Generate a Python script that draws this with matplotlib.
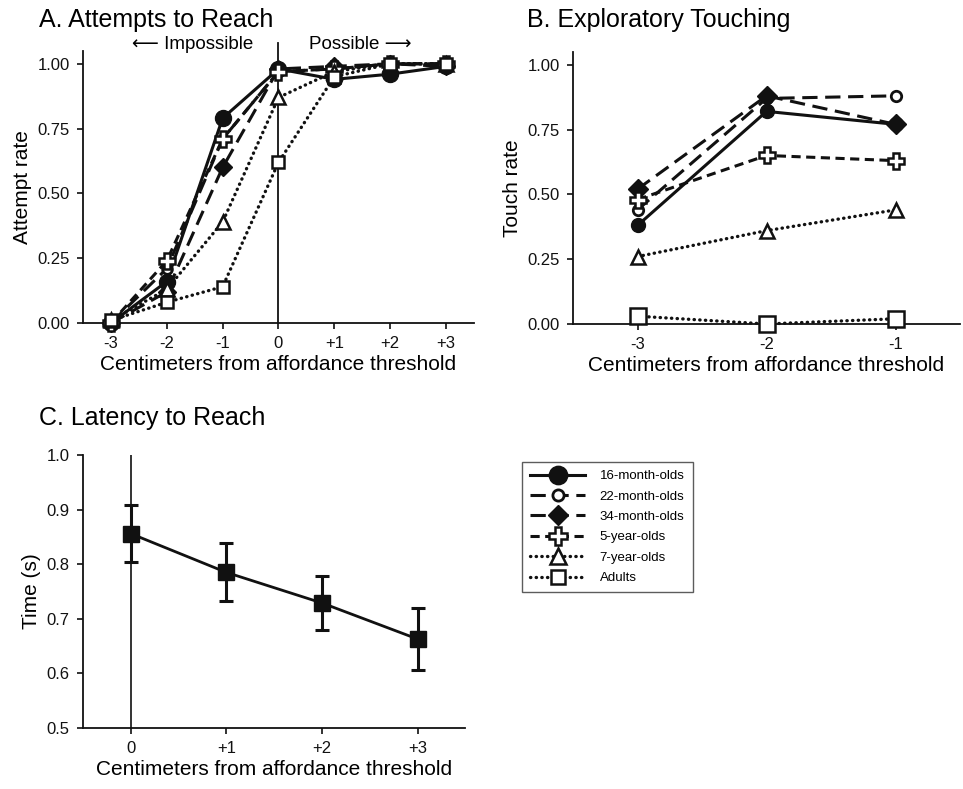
import numpy as np
import matplotlib.pyplot as plt
from matplotlib.lines import Line2D

plt.rcParams['font.family'] = ['Liberation Sans', 'DejaVu Sans']

# Panel A: attempts to reach
dist_a = [-3, -2, -1, 0, 1, 2, 3]
dist_a_labels = ['-3', '-2', '-1', '0', '+1', '+2', '+3']
attempt_16mo = [0.00, 0.16, 0.79, 0.98, 0.94, 0.96, 0.99]
attempt_22mo = [0.00, 0.21, 0.71, 0.97, 0.98, 1.00, 1.00]
attempt_34mo = [0.00, 0.12, 0.60, 0.98, 0.99, 1.00, 0.99]
attempt_5yr = [0.00, 0.24, 0.71, 0.97, 0.98, 1.00, 1.00]
attempt_7yr = [0.01, 0.13, 0.39, 0.87, 0.97, 1.00, 1.00]
attempt_adult = [0.01, 0.08, 0.14, 0.62, 0.95, 1.00, 1.00]

# Panel B: exploratory touching
dist_b = [-3, -2, -1]
dist_b_labels = ['-3', '-2', '-1']
touch_16mo = [0.38, 0.82, 0.77]
touch_22mo = [0.44, 0.87, 0.88]
touch_34mo = [0.52, 0.88, 0.77]
touch_5yr = [0.48, 0.65, 0.63]
touch_7yr = [0.26, 0.36, 0.44]
touch_adult = [0.03, 0.00, 0.02]

# Panel C: latency
dist_c = [0, 1, 2, 3]
dist_c_labels = ['0', '+1', '+2', '+3']
latency = [0.856, 0.785, 0.729, 0.663]
latency_err = [0.052, 0.053, 0.049, 0.056]

groups = ['16-month-olds', '22-month-olds', '34-month-olds',
          '5-year-olds', '7-year-olds', 'Adults']

k = '#111111'
styles = [
    dict(marker='o', ms=11.5, mfc=k, mec=k, ls='-', lw=2.2),
    dict(marker='o', ms=7, mfc='white', mec=k, mew=2, ls=(0, (5, 2.5)), lw=2.2),
    dict(marker='D', ms=9, mfc=k, mec=k, ls=(0, (5, 2.5)), lw=2.2),
    dict(marker='P', ms=11, mfc='white', mec=k, mew=1.8, ls=(0, (3, 1.8)), lw=2.2),
    dict(marker='^', ms=10, mfc='white', mec=k, mew=1.8, ls=(0, (0.1, 1.6)), lw=2.4, dash_capstyle='round'),
    dict(marker='s', ms=9, mfc='white', mec=k, mew=1.8, ls=(0, (0.1, 1.6)), lw=2.4, dash_capstyle='round'),
]

tick_fs = 12
label_fs = 15
title_fs = 18

fig = plt.figure(figsize=(9.63, 7.89), dpi=100)
ax_a = fig.add_axes([0.0862, 0.5906, 0.406, 0.345])
ax_b = fig.add_axes([0.595, 0.5894, 0.402, 0.345])
ax_c = fig.add_axes([0.0862, 0.0773, 0.397, 0.346])


def style_axes(ax):
    for s in ['top', 'right']:
        ax.spines[s].set_visible(False)
    for s in ['left', 'bottom']:
        ax.spines[s].set_linewidth(1.3)
        ax.spines[s].set_color(k)
    ax.tick_params(direction='out', length=4.5, width=1.2, pad=5, labelsize=tick_fs, colors=k)


# A
ax_a.plot([0, 0], [0, 1.08], color=k, lw=1.3, clip_on=False, zorder=1)
attempts = [attempt_16mo, attempt_22mo, attempt_34mo, attempt_5yr, attempt_7yr, attempt_adult]
for vals, st in zip(attempts, styles):
    ax_a.plot(dist_a, vals, color=k, clip_on=False, zorder=3, **st)
ax_a.set_xlim(-3.5, 3.5)
ax_a.set_ylim(0, 1.05)
ax_a.set_xticks(dist_a)
ax_a.set_xticklabels(dist_a_labels)
ax_a.set_yticks([0, 0.25, 0.5, 0.75, 1.0])
ax_a.set_yticklabels(['0.00', '0.25', '0.50', '0.75', '1.00'])
ax_a.set_ylabel('Attempt rate', fontsize=label_fs)
ax_a.set_xlabel('Centimeters from affordance threshold', fontsize=label_fs, labelpad=3)
ax_a.text(-0.45, 1.075, '\u27f5 Impossible', ha='right', va='center', fontsize=13.5)
ax_a.text(0.55, 1.075, 'Possible \u27f6', ha='left', va='center', fontsize=13.5)
style_axes(ax_a)
fig.text(0.04, 0.975, 'A. Attempts to Reach', fontsize=title_fs, va='center')

# B
touches = [touch_16mo, touch_22mo, touch_34mo, touch_5yr, touch_7yr, touch_adult]
size_b = [10, 7.5, 10, 11, 10, 11]
for vals, st, ms in zip(touches, styles, size_b):
    st2 = dict(st)
    st2['ms'] = ms
    ax_b.plot(dist_b, vals, color=k, clip_on=False, zorder=3, **st2)
ax_b.set_xlim(-3.5, -0.5)
ax_b.set_ylim(0, 1.05)
ax_b.set_xticks(dist_b)
ax_b.set_xticklabels(dist_b_labels)
ax_b.set_yticks([0, 0.25, 0.5, 0.75, 1.0])
ax_b.set_yticklabels(['0.00', '0.25', '0.50', '0.75', '1.00'])
ax_b.set_ylabel('Touch rate', fontsize=label_fs)
ax_b.set_xlabel('Centimeters from affordance threshold', fontsize=label_fs, labelpad=3)
style_axes(ax_b)
fig.text(0.547, 0.975, 'B. Exploratory Touching', fontsize=title_fs, va='center')

# C
ax_c.axvline(0, color=k, lw=1.2, zorder=1)
ax_c.errorbar(dist_c, latency, yerr=latency_err, color=k, lw=2, marker='s', ms=12,
              mfc=k, mec=k, elinewidth=2.2, capsize=5, capthick=2.2, zorder=3)
ax_c.set_xlim(-0.5, 3.5)
ax_c.set_ylim(0.5, 1.0)
ax_c.set_xticks(dist_c)
ax_c.set_xticklabels(dist_c_labels)
ax_c.set_yticks([0.5, 0.6, 0.7, 0.8, 0.9, 1.0])
ax_c.set_ylabel('Time (s)', fontsize=label_fs)
ax_c.set_xlabel('Centimeters from affordance threshold', fontsize=label_fs, labelpad=3)
style_axes(ax_c)
fig.text(0.04, 0.47, 'C. Latency to Reach', fontsize=title_fs, va='center')

# legend
handles = [Line2D([], [], color=k, **st) for st in styles]
leg = fig.legend(handles, groups, loc='upper left', bbox_to_anchor=(0.542, 0.4144),
                 borderaxespad=0, fontsize=9.5, frameon=True, fancybox=False,
                 handlelength=4.2, markerscale=1.15, labelspacing=0.62,
                 borderpad=0.6, handletextpad=1.1)
leg.get_frame().set_edgecolor('#333333')
leg.get_frame().set_linewidth(1.0)

fig.savefig('out.png', dpi=100)
